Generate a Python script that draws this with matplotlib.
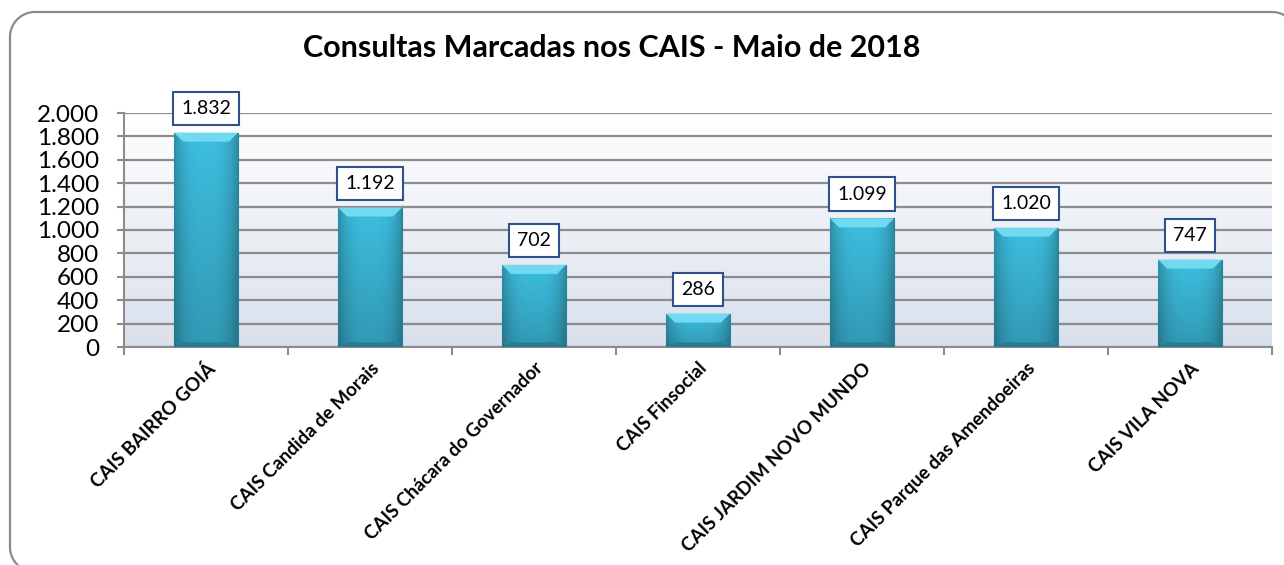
import matplotlib
matplotlib.use("Agg")
import matplotlib.pyplot as plt
import numpy as np
from matplotlib.patches import Polygon
from matplotlib.lines import Line2D
from matplotlib.transforms import IdentityTransform

categories = ["CAIS BAIRRO GOIÁ", "CAIS Candida de Morais", "CAIS Chácara do Governador",
              "CAIS Finsocial", "CAIS JARDIM NOVO MUNDO", "CAIS Parque das Amendoeiras",
              "CAIS VILA NOVA"]
values = [1832, 1192, 702, 286, 1099, 1020, 747]
value_labels = ["1.832", "1.192", "702", "286", "1.099", "1.020", "747"]
yticks = [0, 200, 400, 600, 800, 1000, 1200, 1400, 1600, 1800, 2000]
ytick_labels = ["0", "200", "400", "600", "800", "1.000", "1.200", "1.400", "1.600", "1.800", "2.000"]
title = "Consultas Marcadas nos CAIS - Maio de 2018"

plt.rcParams['font.family'] = ['Lato', 'DejaVu Sans']

W, H = 1284, 565
fig = plt.figure(figsize=(W / 100, H / 100), dpi=100)
fig.patch.set_facecolor("white")

# outer rounded frame as an open line in pixel coordinates (y up), only visible part
r = 25
fl, fr, ft, fb = 10, 1297, H - 12, -7


def arc(cx, cy, a0, a1):
    t = np.radians(np.linspace(a0, a1, 60))
    return cx + r * np.cos(t), cy + r * np.sin(t)


pieces = [arc(fl + r, fb + r, 270, 180), arc(fl + r, ft - r, 180, 90),
          arc(fr - r, ft - r, 90, 0)]
fxs = np.concatenate([p[0] for p in pieces])
fys = np.concatenate([p[1] for p in pieces])
keep = (fxs <= W + 0.5) & (fys >= -0.5)
fig.add_artist(Line2D(fxs[keep], fys[keep], transform=IdentityTransform(), color="#8a8a8a",
                      linewidth=1.6, solid_joinstyle="round"))

left, right, top, bottom = 124, 1272, 113, 347
ax = fig.add_axes([left / W, 1 - bottom / H, (right - left) / W, (bottom - top) / H])

x = np.arange(len(categories))
ax.set_xlim(-0.5, len(categories) - 0.5)
ax.set_ylim(0, 2000)

# background gradient
grad = np.linspace(0, 1, 256)[:, None]
c_top = np.array([1.0, 1.0, 1.0])
c_bot = np.array([0.85, 0.88, 0.93])
bg = c_bot[None, None, :] * (1 - grad[..., None]) + c_top[None, None, :] * grad[..., None]
bg = np.repeat(bg, 2, axis=1)
ax.imshow(bg, extent=(-0.5, len(categories) - 0.5, 0, 2000), origin="lower",
          aspect="auto", zorder=0)

ax.set_yticks(yticks)
ax.set_yticklabels(ytick_labels, fontsize=17.5)
ax.yaxis.grid(True, color="#8c8c8c", linewidth=1.6, zorder=1)
ax.set_axisbelow(True)

# category boundary ticks
ax.set_xticks(np.arange(-0.5, len(categories)), minor=False)
ax.set_xticklabels([])
ax.set_xticks(x, minor=True)
ax.set_xticklabels(categories, minor=True, rotation=45, ha="right", va="top",
                   rotation_mode="anchor", fontsize=13.5, fontweight="bold")
ax.tick_params(axis="x", which="minor", length=0, pad=9)
ax.tick_params(axis="x", which="major", length=6, color="#8c8c8c", width=1.5, direction="out")
ax.tick_params(axis="y", length=5, color="#8c8c8c", width=1.5, pad=13)

for s in ["top", "right"]:
    ax.spines[s].set_visible(False)
ax.spines["left"].set_color("#8c8c8c")
ax.spines["left"].set_linewidth(1.5)
ax.spines["bottom"].set_color("#8c8c8c")
ax.spines["bottom"].set_linewidth(1.5)

bw = 0.39
bars = ax.bar(x, values, width=bw, color="#36b2d4", edgecolor="#2a7f9c",
              linewidth=0.8, zorder=3)

# gradient fill in bars
hx = np.linspace(-1, 1, 100)
shade = 1 - 0.25 * np.abs(hx) ** 3
vy = np.linspace(0, 1, 100)
vshade = 0.80 + 0.20 * vy
base = np.array([0.24, 0.75, 0.88])
img = base[None, None, :] * shade[None, :, None] * vshade[:, None, None]
img = np.clip(img, 0, 1)
for b in bars:
    x0, y0 = b.get_x(), b.get_y()
    w, h = b.get_width(), b.get_height()
    im = ax.imshow(img, extent=(x0, x0 + w, y0, y0 + h), origin="lower",
                   aspect="auto", zorder=3.5)
    im.set_clip_path(b)
    dy = 2000 * 9 / (bottom - top)
    dx = w * 9 / 64
    top_bevel = Polygon([(x0, y0 + h), (x0 + w, y0 + h), (x0 + w - dx, y0 + h - dy),
                         (x0 + dx, y0 + h - dy)], closed=True, facecolor="#72daf0",
                        edgecolor="none", zorder=3.6)
    ax.add_patch(top_bevel)
    bot_bevel = Polygon([(x0, y0), (x0 + w, y0), (x0 + w - dx, y0 + dy * 0.5),
                         (x0 + dx, y0 + dy * 0.5)], closed=True, facecolor="#267a94",
                        edgecolor="none", zorder=3.6)
    ax.add_patch(bot_bevel)
    ax.add_patch(Polygon(b.get_verts()[:-1], closed=True, facecolor="none",
                         edgecolor="#2a7f9c", linewidth=0.8, zorder=3.7))

for xi, v, lab in zip(x, values, value_labels):
    ax.annotate(lab, (xi, v), xytext=(0, 17.5), textcoords="offset points",
                ha="center", va="center", fontsize=14, zorder=5,
                bbox=dict(boxstyle="square,pad=0.42", facecolor="white",
                          edgecolor="#2f528f", linewidth=1.5))

fig.text(612 / W, 1 - 48 / H, title, ha="center", va="center",
         fontsize=22, fontweight="bold")

fig.savefig("out.png", dpi=100)
